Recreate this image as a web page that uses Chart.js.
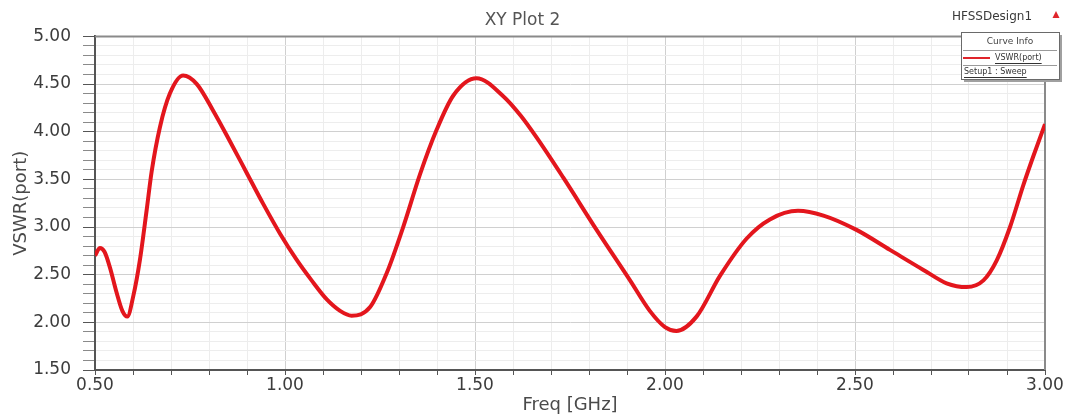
<!DOCTYPE html>
<html>
<head>
<meta charset="utf-8">
<title>XY Plot 2</title>
<script src="https://cdn.jsdelivr.net/npm/chart.js@4.4.1/dist/chart.umd.min.js"></script>
<style>
  html, body { margin: 0; padding: 0; background: #fff; }
  canvas { display: block; }
</style>
</head>
<body>
<canvas id="vswrChart" width="1074" height="419"></canvas>
<script>
// Frequency sweep (GHz) and VSWR read at each point
const freqGHz = [
  0.500, 0.513, 0.525, 0.539, 0.557, 0.572, 0.585, 0.601, 0.618, 0.636,
  0.649, 0.671, 0.697, 0.732, 0.768, 0.811, 0.855, 0.899, 0.943, 0.987,
  1.030, 1.070, 1.110, 1.145, 1.175, 1.224, 1.268, 1.311, 1.355, 1.399,
  1.443, 1.504, 1.575, 1.620, 1.662, 1.732, 1.820, 1.908, 1.960, 2.000,
  2.030, 2.083, 2.145, 2.215, 2.276, 2.350, 2.417, 2.504, 2.592, 2.680,
  2.741, 2.794, 2.838, 2.873, 2.908, 2.943, 2.969, 3.000
];
const vswr = [
  2.70, 2.78, 2.74, 2.58, 2.31, 2.12, 2.06, 2.28, 2.65, 3.18,
  3.58, 4.05, 4.40, 4.59, 4.50, 4.22, 3.90, 3.57, 3.24, 2.93,
  2.66, 2.44, 2.24, 2.12, 2.07, 2.16, 2.52, 3.00, 3.55, 4.02,
  4.38, 4.56, 4.37, 4.17, 3.94, 3.52, 2.97, 2.44, 2.12, 1.95,
  1.91, 2.06, 2.49, 2.88, 3.08, 3.17, 3.12, 2.97, 2.76, 2.55,
  2.41, 2.37, 2.44, 2.65, 3.00, 3.44, 3.74, 4.08
];
const xTickLabels = ["0.50", "1.00", "1.50", "2.00", "2.50", "3.00"];
const yTickLabels = ["1.50", "2.00", "2.50", "3.00", "3.50", "4.00", "4.50", "5.00"];

const FONT = "'DejaVu Sans', 'Liberation Sans', sans-serif";

function majorLabel(value, labels) {
  const txt = value.toFixed(2);
  return labels.includes(txt) ? txt : "";
}

function isMajor(value) {
  return Math.abs(value * 2 - Math.round(value * 2)) < 1e-6;
}

// top/right frame of the plot area
const plotFrame = {
  id: "plotFrame",
  beforeDatasetsDraw(chart) {
    const { ctx, chartArea: a } = chart;
    ctx.save();
    ctx.strokeStyle = "#8a8a8a";
    ctx.lineWidth = 2;
    ctx.beginPath();
    ctx.moveTo(a.left, a.top);
    ctx.lineTo(a.right, a.top);
    ctx.lineTo(a.right, a.bottom);
    ctx.stroke();
    ctx.restore();
  }
};

// HFSS style "Curve Info" box in the upper right corner
const curveInfo = {
  id: "curveInfo",
  afterDraw(chart) {
    const { ctx, chartArea: a } = chart;
    const x = a.right - 84, y = 32, w = 98, h = 47;
    ctx.save();

    ctx.font = "12px " + FONT;
    ctx.fillStyle = "#3a3a3a";
    ctx.textAlign = "left";
    ctx.textBaseline = "middle";
    ctx.fillText("HFSSDesign1", x - 9, 17);

    ctx.fillStyle = "#e0252b";
    ctx.beginPath();
    ctx.moveTo(x + 95, 11);
    ctx.lineTo(x + 98.5, 18);
    ctx.lineTo(x + 91.5, 18);
    ctx.closePath();
    ctx.fill();

    ctx.fillStyle = "#a0a0a0";
    ctx.fillRect(x + 3, y + 3, w, h);
    ctx.fillStyle = "#fff";
    ctx.fillRect(x, y, w, h);
    ctx.strokeStyle = "#6a6a6a";
    ctx.lineWidth = 1;
    ctx.strokeRect(x + 0.5, y + 0.5, w, h);

    ctx.font = "9px " + FONT;
    ctx.fillStyle = "#444";
    ctx.textAlign = "center";
    ctx.fillText("Curve Info", x + w / 2, y + 10);

    ctx.strokeStyle = "#9a9a9a";
    ctx.beginPath();
    ctx.moveTo(x + 2, y + 18.5);
    ctx.lineTo(x + w - 2, y + 18.5);
    ctx.moveTo(x + 2, y + 33.5);
    ctx.lineTo(x + w - 2, y + 33.5);
    ctx.stroke();

    ctx.strokeStyle = "#e0252b";
    ctx.lineWidth = 2;
    ctx.beginPath();
    ctx.moveTo(x + 2, y + 26);
    ctx.lineTo(x + 29, y + 26);
    ctx.stroke();

    ctx.font = "8px " + FONT;
    ctx.fillStyle = "#333";
    ctx.textAlign = "left";
    const rows = [["VSWR(port)", x + 34, y + 26], ["Setup1 : Sweep", x + 3, y + 40]];
    ctx.strokeStyle = "#333";
    ctx.lineWidth = 1;
    for (const [txt, tx, ty] of rows) {
      ctx.fillText(txt, tx, ty);
      const tw = ctx.measureText(txt).width;
      ctx.beginPath();
      ctx.moveTo(tx, ty + 5.5);
      ctx.lineTo(tx + tw, ty + 5.5);
      ctx.stroke();
    }
    ctx.restore();
  }
};

new Chart(document.getElementById("vswrChart"), {
  type: "line",
  data: {
    datasets: [{
      label: "VSWR(port)",
      data: freqGHz.map((f, i) => ({ x: f, y: vswr[i] })),
      borderColor: "#e3161d",
      borderWidth: 4,
      pointRadius: 0,
      cubicInterpolationMode: "monotone",
      fill: false
    }]
  },
  options: {
    responsive: false,
    animation: false,
    devicePixelRatio: 1,
    layout: { padding: { top: 0, left: 0, right: 29, bottom: 0 } },
    plugins: {
      legend: { display: false },
      tooltip: { enabled: false },
      title: {
        display: true,
        text: "XY Plot 2",
        color: "#555",
        font: { family: FONT, size: 17, weight: "normal" },
        padding: { top: 10, bottom: 6 }
      }
    },
    scales: {
      x: {
        type: "linear",
        min: 0.5,
        max: 3.0,
        afterFit(scale) { scale.height = 49; },
        border: { color: "#555", width: 2 },
        grid: {
          color: (c) => isMajor(c.tick.value) ? "#d0d0d0" : "#ededed",
          tickColor: "#555",
          tickLength: 5
        },
        ticks: {
          stepSize: 0.1,
          autoSkip: false,
          maxRotation: 0,
          padding: 0,
          color: "#3c3c3c",
          font: { family: FONT, size: 17 },
          callback: (v) => majorLabel(v, xTickLabels)
        },
        title: {
          display: true,
          text: "Freq [GHz]",
          color: "#4a4a4a",
          font: { family: FONT, size: 18 },
          padding: { top: 0, bottom: 3 }
        }
      },
      y: {
        min: 1.5,
        max: 5.0,
        afterFit(scale) { scale.width = 95; },
        border: { color: "#555", width: 2 },
        grid: {
          color: (c) => isMajor(c.tick.value) ? "#d0d0d0" : "#ededed",
          tickColor: (c) => isMajor(c.tick.value) ? "#555" : "#8a8a8a",
          tickLength: 12
        },
        ticks: {
          stepSize: 0.1,
          autoSkip: false,
          padding: 12,
          color: "#3c3c3c",
          font: { family: FONT, size: 17 },
          callback: (v) => majorLabel(v, yTickLabels)
        },
        title: {
          display: true,
          text: "VSWR(port)",
          color: "#4a4a4a",
          font: { family: FONT, size: 18 },
          padding: { top: 11, bottom: 0 }
        }
      }
    }
  },
  plugins: [plotFrame, curveInfo]
});
</script>
</body>
</html>
